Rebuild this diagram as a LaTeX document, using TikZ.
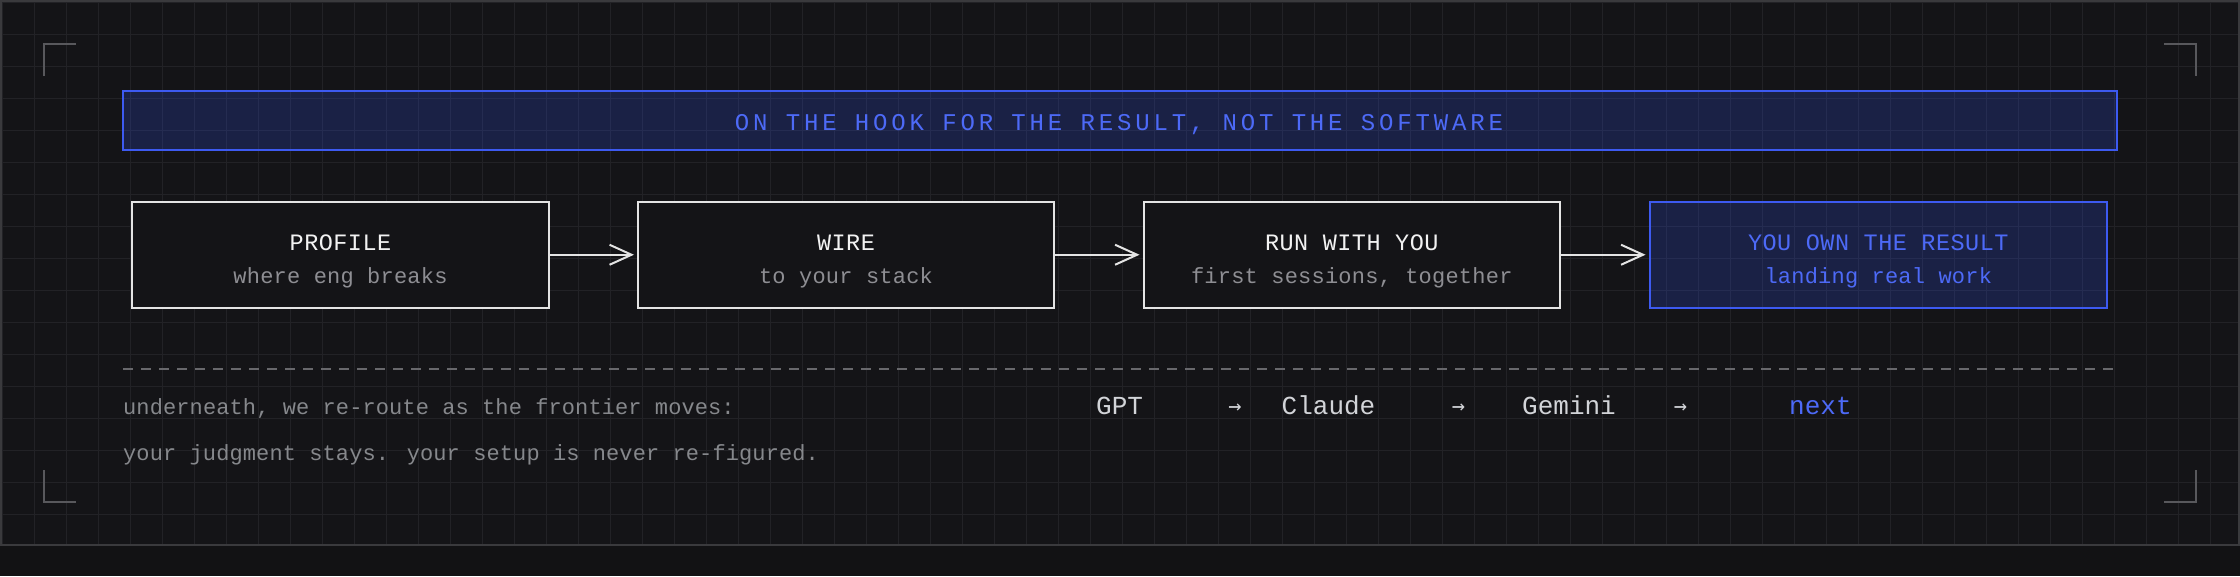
\documentclass[tikz,border=0pt]{standalone}
\usepackage{fontspec}
\usetikzlibrary{arrows.meta}
\newfontfamily\monohdr[LetterSpace=16]{Liberation Mono}
\newfontfamily\monottl[LetterSpace=2]{Liberation Mono}
\newfontfamily\monosub[LetterSpace=1]{Liberation Mono}
\newfontfamily\monobot[LetterSpace=0.5]{Liberation Mono}
\newfontfamily\monomod{Liberation Mono}
\newfontfamily\arrowfont{DejaVu Sans Mono}
\definecolor{bgout}{HTML}{121214}
\definecolor{bgin}{HTML}{141417}
\definecolor{gridc}{HTML}{222226}
\definecolor{framec}{HTML}{3A3A3D}
\definecolor{bracketc}{HTML}{58585C}
\definecolor{boxline}{HTML}{E4E4E4}
\definecolor{titlec}{HTML}{F2F2F2}
\definecolor{subc}{HTML}{8E8E93}
\definecolor{bluec}{HTML}{3D5AF1}
\definecolor{bluetext}{HTML}{4D6AF7}
\definecolor{bluefill}{HTML}{3355FF}
\definecolor{dashc}{HTML}{68686C}
\definecolor{modelc}{HTML}{D2D4D8}
\definecolor{bottomc}{HTML}{86888C}
\begin{document}
\begin{tikzpicture}[x=1pt,y=-1pt,
  wbox/.style={draw=boxline, line width=2pt, fill=bgin, minimum width=#1, minimum height=105.5pt, inner sep=0pt},
  bbox/.style={draw=bluec, line width=2pt, fill=bluefill, fill opacity=0.2, draw opacity=1, minimum width=#1, minimum height=105.5pt, inner sep=0pt},
  ttl/.style={anchor=base, inner sep=0pt, text=titlec, font=\monottl\fontsize{23.5}{24}\selectfont},
  sub/.style={anchor=base, inner sep=0pt, text=subc, font=\monosub\fontsize{22}{24}\selectfont},
  flow/.style={draw=boxline, line width=2pt, -{Straight Barb[length=22pt,width=20pt,line width=2pt]}, shorten >=3pt},
  model/.style={anchor=base west, inner sep=0pt, text=modelc, font=\monomod\fontsize{26}{28}\selectfont},
  marr/.style={anchor=base, inner sep=0pt, text=modelc, font=\arrowfont\fontsize{22}{24}\selectfont},
  bottomtxt/.style={anchor=base west, inner sep=0pt, text=bottomc, font=\monobot\fontsize{22}{24}\selectfont},
  bracket/.style={draw=bracketc, line width=2pt}
]
\useasboundingbox (0,0) rectangle (2240,576);
\fill[bgout] (0,0) rectangle (2240,576);
\fill[bgin] (0,0) rectangle (2240,546);
% grid
\begin{scope}
\clip (0,0) rectangle (2240,546);
\foreach \gx in {2.5,34.5,...,2240} \draw[gridc, line width=1.5pt] (\gx,0) -- (\gx,546);
\foreach \gy in {2.7,34.7,...,546} \draw[gridc, line width=1.5pt] (0,\gy) -- (2240,\gy);
\end{scope}
\draw[framec, line width=2pt] (1,1) rectangle (2239,545);
% corner brackets
\draw[bracket] (44,76) -- (44,44) -- (76,44);
\draw[bracket] (2164,44) -- (2196,44) -- (2196,76);
\draw[bracket] (44,470) -- (44,502) -- (76,502);
\draw[bracket] (2164,502) -- (2196,502) -- (2196,470);
% banner
\node[draw=bluec, line width=2pt, fill=bluefill, fill opacity=0.2, draw opacity=1, minimum width=1994pt, minimum height=59pt, inner sep=0pt] (banner) at (1120,120.5) {};
\node[anchor=base, inner sep=0pt, text=bluetext, font=\monohdr\fontsize{24}{26}\selectfont] (bannertxt) at (1119,130) {ON THE HOOK FOR THE RESULT, NOT THE SOFTWARE};
% boxes
\node[wbox=417pt] (b1) at (340.5,254.75) {};
\node[wbox=416pt] (b2) at (846,254.75) {};
\node[wbox=416.5pt] (b3) at (1351.75,254.75) {};
\node[bbox=457.5pt] (b4) at (1878.25,254.75) {};
\node[ttl] (t1) at (340.5,250) {PROFILE};
\node[sub] (s1) at (340.5,283) {where eng breaks};
\node[ttl] (t2) at (846,250) {WIRE};
\node[sub] (s2) at (846,283) {to your stack};
\node[ttl] (t3) at (1351.75,250) {RUN WITH YOU};
\node[sub] (s3) at (1351.75,283) {first sessions, together};
\node[ttl, text=bluetext] (t4) at (1878.25,250) {YOU OWN THE RESULT};
\node[sub, text=bluetext] (s4) at (1878.25,283) {landing real work};
\draw[flow] (b1.east) -- (b2.west);
\draw[flow] (b2.east) -- (b3.west);
\draw[flow] (b3.east) -- (b4.west);
% divider
\draw[dashc, line width=2pt, dash pattern=on 10pt off 8pt] (123,368.5) -- (2114,368.5);
% bottom text
\node[bottomtxt] (l1) at (123,414) {underneath, we re-route as the frontier moves:};
\node[bottomtxt] (l2) at (123,460) {your judgment stays. your setup is never re-figured.};
\node[model] (m1) at (1096,414.5) {GPT};
\node[marr] (a1) at (1235,413.5) {→};
\node[model] (m2) at (1281.5,414.5) {Claude};
\node[marr] (a2) at (1458.4,413.5) {→};
\node[model] (m3) at (1522,414.5) {Gemini};
\node[marr] (a3) at (1680.4,413.5) {→};
\node[model, text=bluetext] (m4) at (1789,414.5) {next};
\end{tikzpicture}
\end{document}
